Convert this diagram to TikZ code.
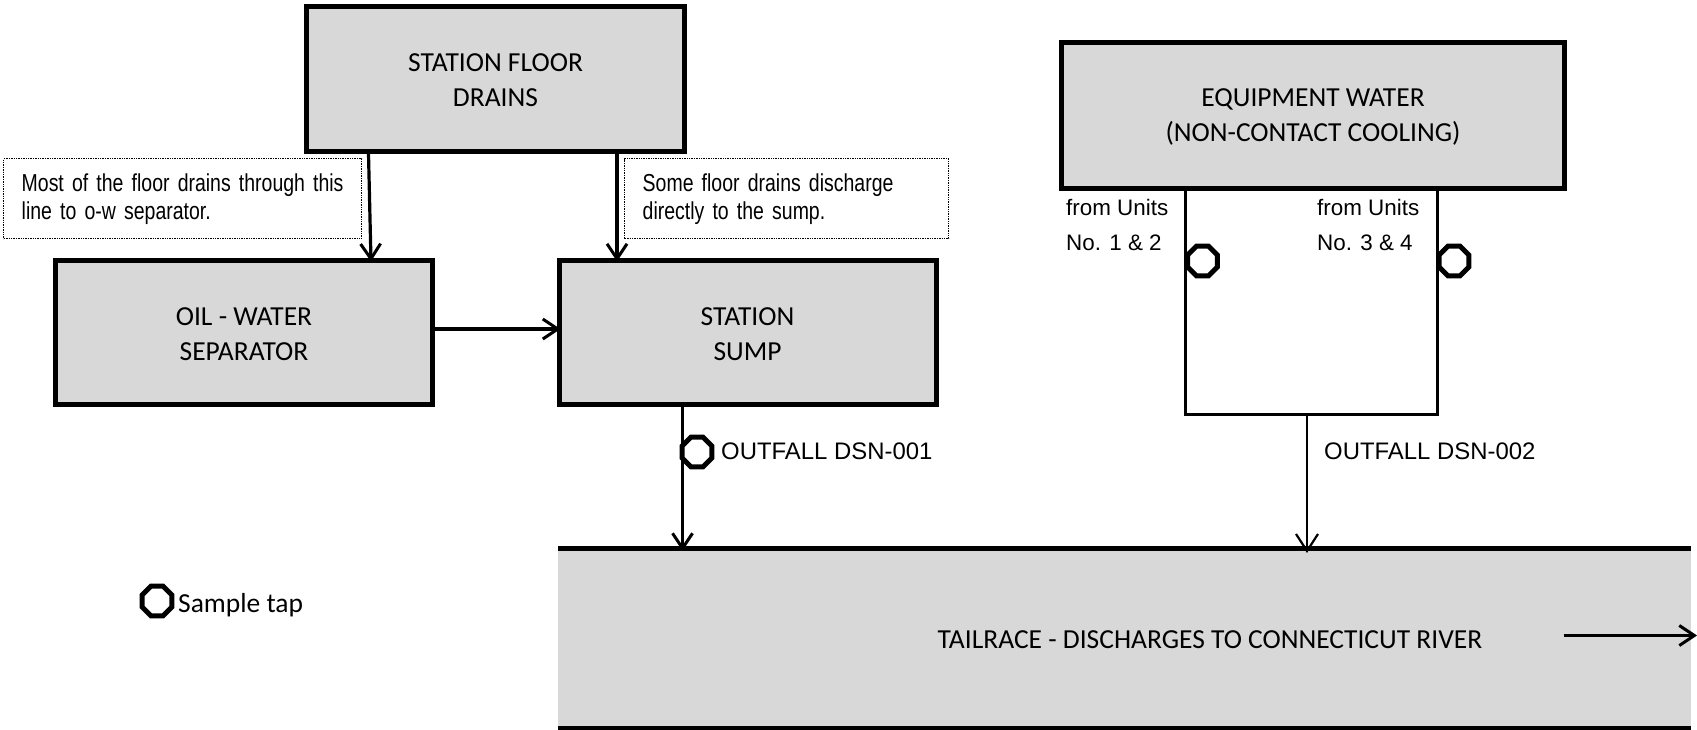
\documentclass[tikz,border=0pt]{standalone}
\usepackage{fontspec}
\setmainfont{Carlito}
\newfontfamily\arialf{Liberation Sans}
\newfontfamily\arialn[FakeStretch=0.795,WordSpace=0.7]{Liberation Sans}
\usetikzlibrary{arrows.meta,shapes.geometric}
\definecolor{boxgray}{HTML}{D8D8D8}
\newcommand\lowerline[1]{\raisebox{-1.5pt}[\height][\depth]{#1}}
\tikzset{
  flowbox/.style={draw=black,fill=boxgray,line width=5pt,font=\fontsize{27.5}{35}\selectfont,align=center,inner sep=0pt},
  notebox/.style={draw=black,densely dotted,line width=1.4pt,fill=white,align=left,anchor=north west,inner ysep=0pt,inner xsep=18pt,minimum height=80pt,font=\arialn\fontsize{24.5}{28}\selectfont},
  flow/.style={line width=3.2pt,-{Straight Barb[length=15pt,width=20pt,line width=3pt]}},
  thinflow/.style={line width=2.4pt,-{Straight Barb[length=17pt,width=22pt,line width=2.2pt]}},
  pipe/.style={line width=3pt,line cap=rect},
  tap/.style={draw=black,fill=white,line width=5pt,regular polygon,regular polygon sides=8,minimum size=32pt,inner sep=0pt},
  label/.style={anchor=west,inner sep=0pt},
  outfalltext/.style={label,font=\arialf\fontsize{23.9}{28}\selectfont},
  unittext/.style={anchor=north west,inner sep=0pt,align=left,font=\arialf\fontsize{22.4}{35}\selectfont}
}
\begin{document}
\begin{tikzpicture}[x=1pt,y=-1pt]
\useasboundingbox (0,0) rectangle (1697,729);
% notes
\node[notebox,text width=322pt] (n1) at (3,158) {\mbox{Most of the floor drains through this}\\line to o-w separator.};
\node[notebox,text width=288pt] (n2) at (624,158) {Some floor drains discharge\\directly to the sump.};
% tailrace
\node[fill=boxgray,anchor=north west,minimum width=1133pt,minimum height=179pt,inner sep=0pt] (tail) at (558,548.5) {};
\draw[line width=5pt] (tail.north west) -- (tail.north east);
\draw[line width=4pt] (tail.south west) -- (tail.south east);
\node[font=\fontsize{27.5}{30}\selectfont,inner sep=0pt] (tailtext) at (1210,639.5) {TAILRACE - DISCHARGES TO CONNECTICUT RIVER};
% boxes
\node[flowbox,minimum width=378pt,minimum height=145pt] (fd) at (495.5,78.5) {\lowerline{STATION FLOOR}\\\lowerline{DRAINS}};
\node[flowbox,minimum width=377pt,minimum height=144pt] (ows) at (244,332.5) {\lowerline{OIL - WATER}\\\lowerline{SEPARATOR}};
\node[flowbox,minimum width=377pt,minimum height=144pt] (sump) at (747.5,332.5) {\lowerline{STATION}\\\lowerline{SUMP}};
\node[flowbox,minimum width=503pt,minimum height=146pt] (eq) at (1313,115.5) {\lowerline{EQUIPMENT WATER}\\\lowerline{(NON-CONTACT COOLING)}};
% equipment water piping
\coordinate (ul) at (1185.5,414);
\coordinate (ur) at (1437,414);
\coordinate (stem) at (1307,414);
\draw[pipe] (eq.south -| ul) -- (ul) -- (ur) -- (eq.south -| ur);
% connectors
\coordinate (a1) at (368.5,0);
\coordinate (a2) at (371,0);
\coordinate (a3) at (617,0);
\draw[flow] (fd.south -| a1) -- ([yshift=-3.5pt]ows.north -| a2);
\draw[flow] (fd.south -| a3) -- ([yshift=-3.5pt]sump.north -| a3);
\draw[flow] ([xshift=-4pt,yshift=3.5pt]ows.east) -- ([xshift=4pt,yshift=3.5pt]sump.west);
\coordinate (a4) at (682.5,0);
\draw[flow] (sump.south -| a4) -- ([yshift=-2.5pt]tail.north -| a4);
\draw[thinflow] (stem) -- ([yshift=-4.5pt]tail.north -| stem);
\coordinate (riverstart) at (1563.5,635.5);
\coordinate (riverend) at (1697,635.5);
\draw[flow] (riverstart) -- (riverend);
% sample taps
\node[tap] (t1) at (697,452) {};
\node[tap] (t2) at (1202.5,261) {};
\node[tap] (t3) at (1454,261) {};
\node[tap] (t4) at (157,601) {};
% labels
\node[label,font=\fontsize{27.5}{30}\selectfont] (sampletext) at (178,605) {Sample tap};
\node[outfalltext] (o1) at (721,451) {OUTFALL DSN-001};
\node[outfalltext] (o2) at (1324,451) {OUTFALL DSN-002};
\node[unittext] (u1) at (1066,199.5) {from Units\\No. 1 \& 2};
\node[unittext] (u2) at (1317,199.5) {from Units\\No. 3 \& 4};
\end{tikzpicture}
\end{document}
